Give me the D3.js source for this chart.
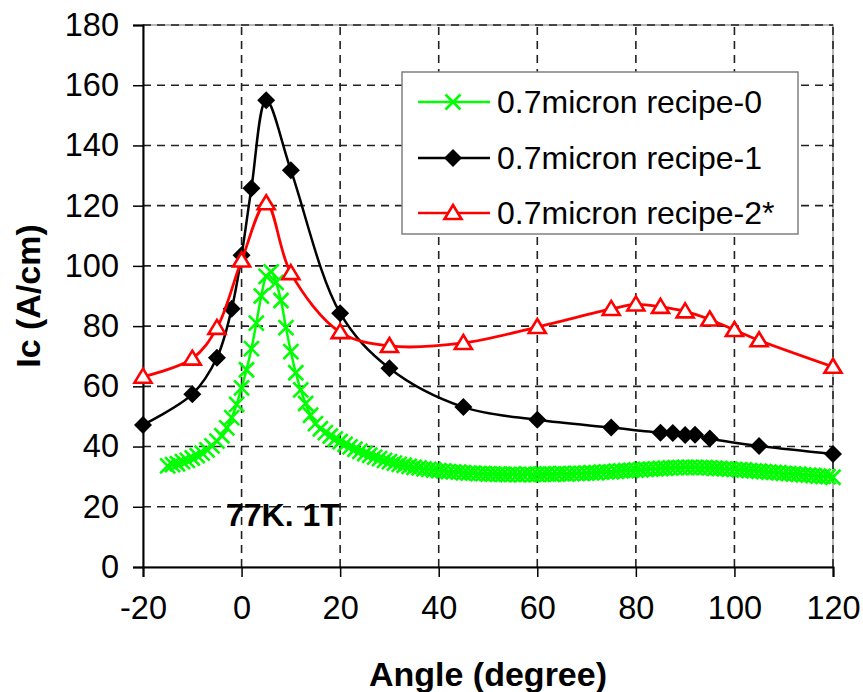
<!DOCTYPE html>
<html>
<head>
<meta charset="utf-8">
<script src="https://cdn.jsdelivr.net/npm/d3@7"></script>
<style>
body { margin: 0; background: #fff; }
svg text { font-family: "Liberation Sans", Arial, sans-serif; fill: #000; }
</style>
</head>
<body>
<svg id="chart" width="863" height="692"></svg>
<script>
// axis ticks
var xTicks = [-20, 0, 20, 40, 60, 80, 100, 120];
var yTicks = [0, 20, 40, 60, 80, 100, 120, 140, 160, 180];

var seriesNames = ['0.7micron recipe-0', '0.7micron recipe-1', '0.7micron recipe-2*'];

// recipe-0 (green crosses)
var recipe0Angle = [-15,-14,-13,-12,-11,-10,-9,-8,-7,-6,-5,-4,-3,-2,-1,0,1,2,3,4,5,6,7,8,9,10,
  11,12,13,14,15,16,17,18,19,20,21,22,23,24,25,26,27,28,29,30,31,32,33,34,35,36,37,38,39,40,
  41,42,43,44,45,46,47,48,49,50,51,52,53,54,55,56,57,58,59,60,61,62,63,64,65,66,67,68,69,70,
  71,72,73,74,75,76,77,78,79,80,81,82,83,84,85,86,87,88,89,90,91,92,93,94,95,96,97,98,99,100,
  101,102,103,104,105,106,107,108,109,110,111,112,113,114,115,116,117,118,119,120];
var recipe0Ic = [33.6,34.0,34.3,35.0,35.4,36.2,37.0,37.8,38.9,40.2,41.8,43.6,46.2,49.6,54.0,59.5,65.5,72.5,81.0,90.0,96.5,
  98.0,94.5,88.5,79.5,71.5,64.5,58.8,54.3,50.4,47.6,45.9,44.6,43.5,42.5,41.6,40.7,39.9,39.1,38.4,37.7,
  37.1,36.5,36.0,35.4,35.0,34.5,34.1,33.8,33.4,33.1,32.9,32.6,32.4,32.2,32.0,
  31.9,31.7,31.6,31.5,31.3,31.2,31.2,31.0,31.0,30.9,30.9,30.8,30.8,30.7,30.8,30.7,30.7,30.8,30.7,30.8,
  30.8,30.9,30.8,30.9,31.0,30.9,31.0,31.1,31.1,31.2,31.3,31.3,31.5,31.6,31.6,31.8,31.9,32.0,32.1,32.2,
  32.3,32.4,32.5,32.6,32.7,32.8,32.9,33.0,33.0,33.1,33.1,33.1,33.0,33.0,32.9,32.8,32.7,32.6,32.5,32.4,
  32.3,32.2,32.0,31.9,31.8,31.7,31.5,31.4,31.3,31.1,31.0,30.9,30.8,30.6,30.5,30.4,30.2,30.1,30.0,29.8];

// recipe-1 (black diamonds)
var recipe1Angle = [-20, -10, -5, -2, 0, 2, 5, 10, 20, 30, 45, 60, 75, 85, 87.5, 90, 92, 95, 105, 120];
var recipe1Ic = [47.2, 57.4, 69.5, 85.8, 103.5, 125.8, 155, 131.8, 84.3, 66, 53.1, 48.9, 46.3, 44.6, 44.5, 43.8, 43.9, 42.7, 40.2, 37.5];

// recipe-2* (red triangles)
var recipe2Angle = [-20, -10, -5, 0, 5, 10, 20, 30, 45, 60, 75, 80, 85, 90, 95, 100, 105, 120];
var recipe2Ic = [63.2, 69.2, 79.4, 101.8, 120.8, 97.6, 78, 73.4, 74.4, 79.7, 85.7, 87.2, 86.4, 84.9, 82.2, 78.7, 75.3, 66.5];

var svg = d3.select('#chart');

var x = d3.scaleLinear().domain([-20, 120]).range([143, 833]);
var y = d3.scaleLinear().domain([0, 180]).range([567, 25]);

function zip(a, b) {
  return a.map(function(v, i) { return [v, b[i]]; });
}

// plot area border (light grey)
svg.append('rect')
  .attr('x', x(-20)).attr('y', y(180))
  .attr('width', x(120) - x(-20)).attr('height', y(0) - y(180))
  .attr('fill', 'none').attr('stroke', '#a0a0a0').attr('stroke-width', 1.5);

// dashed gridlines
svg.selectAll('line.hgrid')
    .data(yTicks.filter(function(d) { return d > 0; }))
  .enter().append('line')
    .attr('class', 'hgrid')
    .attr('x1', x(-20)).attr('x2', x(120))
    .attr('y1', y).attr('y2', y)
    .attr('stroke', '#222').attr('stroke-width', 1.6)
    .attr('stroke-dasharray', '8,6');

svg.selectAll('line.vgrid')
    .data(xTicks.filter(function(d) { return d > -20; }))
  .enter().append('line')
    .attr('class', 'vgrid')
    .attr('x1', x).attr('x2', x)
    .attr('y1', y(0)).attr('y2', y(180))
    .attr('stroke', '#222').attr('stroke-width', 1.6)
    .attr('stroke-dasharray', '8,6');

// axes
var yAxis = svg.append('g')
  .attr('transform', 'translate(' + x(-20) + ',0)')
  .call(d3.axisLeft(y).tickValues(yTicks).tickSize(10).tickPadding(14).tickFormat(String));
var xAxis = svg.append('g')
  .attr('transform', 'translate(0,' + y(0) + ')')
  .call(d3.axisBottom(x).tickValues(xTicks).tickSize(10).tickPadding(12).tickFormat(String));

[yAxis, xAxis].forEach(function(ax) {
  ax.select('.domain').attr('stroke', '#000').attr('stroke-width', 2);
  ax.selectAll('.tick line').attr('stroke', '#000').attr('stroke-width', 1.5);
  ax.selectAll('.tick text')
    .attr('font-family', '"Liberation Sans", Arial, sans-serif')
    .attr('font-size', 32.5).attr('fill', '#000');
});
xAxis.selectAll('.tick text').attr('dy', '0.92em');

// lines
var line = d3.line()
  .x(function(d) { return x(d[0]); })
  .y(function(d) { return y(d[1]); })
  .curve(d3.curveCatmullRom);

var green = '#00ff00', red = '#ff0000';

// recipe-0
var d0 = zip(recipe0Angle, recipe0Ic);
svg.append('path').datum(d0)
  .attr('d', line).attr('fill', 'none')
  .attr('stroke', green).attr('stroke-width', 2.5);

function crossPath(s) {
  return 'M' + -s + ',' + -s + 'L' + s + ',' + s + 'M' + -s + ',' + s + 'L' + s + ',' + -s;
}
var diamondPath = 'M0,-9L9,0L0,9L-9,0Z';
var trianglePath = 'M0,-8L8.5,6L-8.5,6Z';

svg.append('g').selectAll('path')
    .data(d0)
  .enter().append('path')
    .attr('transform', function(d) { return 'translate(' + x(d[0]) + ',' + y(d[1]) + ')'; })
    .attr('d', crossPath(7.5))
    .attr('stroke', green).attr('stroke-width', 2.6).attr('fill', 'none');

// recipe-1
var d1 = zip(recipe1Angle, recipe1Ic);
svg.append('path').datum(d1)
  .attr('d', line).attr('fill', 'none')
  .attr('stroke', '#000').attr('stroke-width', 2.5);
svg.append('g').selectAll('path')
    .data(d1)
  .enter().append('path')
    .attr('transform', function(d) { return 'translate(' + x(d[0]) + ',' + y(d[1]) + ')'; })
    .attr('d', diamondPath)
    .attr('fill', '#000');

// recipe-2*
var d2 = zip(recipe2Angle, recipe2Ic);
svg.append('path').datum(d2)
  .attr('d', line).attr('fill', 'none')
  .attr('stroke', red).attr('stroke-width', 2.8);
svg.append('g').selectAll('path')
    .data(d2)
  .enter().append('path')
    .attr('transform', function(d) { return 'translate(' + x(d[0]) + ',' + y(d[1]) + ')'; })
    .attr('d', trianglePath)
    .attr('fill', '#fff').attr('stroke', red).attr('stroke-width', 2.6);

// legend
var legend = svg.append('g');
legend.append('rect')
  .attr('x', 402).attr('y', 72).attr('width', 396).attr('height', 162)
  .attr('fill', '#fff').attr('stroke', '#808080').attr('stroke-width', 1.5);

var legendRows = [102, 158, 213];
var legendColors = [green, '#000', red];
seriesNames.forEach(function(name, i) {
  var row = legend.append('g').attr('transform', 'translate(0,' + legendRows[i] + ')');
  row.append('line')
    .attr('x1', 418).attr('x2', 490).attr('y1', 0).attr('y2', 0)
    .attr('stroke', legendColors[i]).attr('stroke-width', 2.5);
  var m = row.append('path').attr('transform', 'translate(453,0)');
  if (i === 0) m.attr('d', crossPath(7.5)).attr('stroke', green).attr('stroke-width', 2.6).attr('fill', 'none');
  if (i === 1) m.attr('d', diamondPath).attr('fill', '#000');
  if (i === 2) m.attr('d', trianglePath).attr('fill', '#fff').attr('stroke', red).attr('stroke-width', 2.6);
  row.append('text')
    .attr('x', 497).attr('y', 11)
    .attr('font-size', 32)
    .text(name);
});

// annotation
svg.append('text')
  .attr('x', 226).attr('y', 526)
  .attr('font-size', 32).attr('font-weight', 'bold')
  .text('77K. 1T');

// axis titles
svg.append('text')
  .attr('x', (x(-20) + x(120)) / 2).attr('y', 686)
  .attr('text-anchor', 'middle')
  .attr('font-size', 34).attr('font-weight', 'bold')
  .text('Angle (degree)');

svg.append('text')
  .attr('transform', 'translate(40,' + (y(0) + y(180)) / 2 + ') rotate(-90)')
  .attr('text-anchor', 'middle')
  .attr('font-size', 34).attr('font-weight', 'bold')
  .text('Ic (A/cm)');
</script>
</body>
</html>
